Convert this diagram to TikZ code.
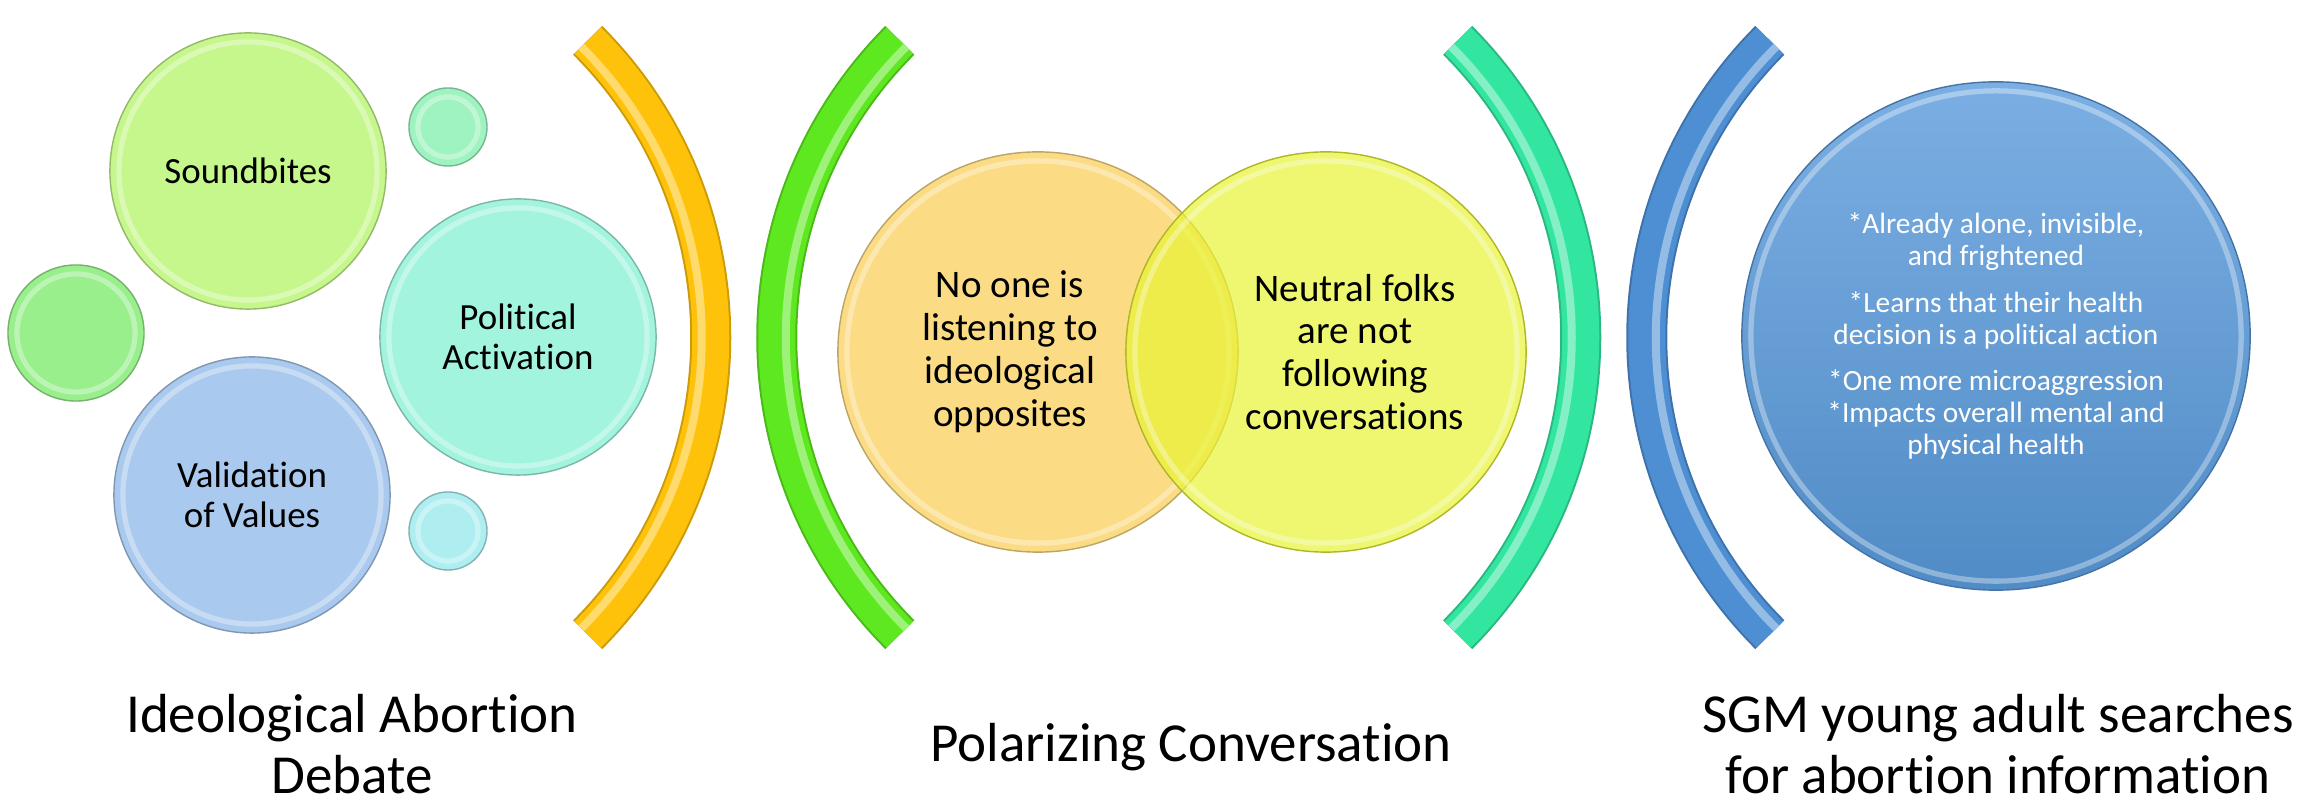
\documentclass[tikz,border=0pt]{standalone}
\usepackage{fontspec}
\setmainfont{Carlito}[Ligatures={NoCommon}]

\definecolor{soundgreen}{HTML}{C6F78C}
\definecolor{mintsmall}{HTML}{9EF3C0}
\definecolor{leafgreen}{HTML}{98EF8C}
\definecolor{aquamint}{HTML}{A3F4DE}
\definecolor{paleblue}{HTML}{A9CAEE}
\definecolor{palecyan}{HTML}{AEEEF0}
\definecolor{vennorange}{HTML}{FBDC85}
\definecolor{vennyellow}{HTML}{E8F432}
\definecolor{deepblue}{HTML}{5A9BDC}
\definecolor{arcyellow}{HTML}{FFC20A}
\definecolor{arcgreen}{HTML}{5EE81F}
\definecolor{arcteal}{HTML}{33E6A0}
\definecolor{arcblue}{HTML}{4E8FD4}

\begin{document}
\begin{tikzpicture}[x=0.01cm,y=-0.01cm,
      bubble/.style={circle,fill=#1,draw=#1!75!black,line width=0.4pt,
        inner sep=0pt,align=center,
        path picture={\draw[white,opacity=0.35,line width=1.5pt]
          (path picture bounding box.center)
          circle[radius=0.5*\pgfkeysvalueof{/pgf/minimum width}-0.09cm];}},
      bubtext/.style={font=\fontsize{10.5pt}{11.4pt}\selectfont},
      venntext/.style={font=\fontsize{11.1pt}{12.2pt}\selectfont,
        align=center,inner sep=0pt},
      bluetext/.style={font=\fontsize{8.35pt}{9.1pt}\selectfont,
        text=white},
      caption/.style={font=\fontsize{15.65pt}{17.4pt}\selectfont,
        align=center,inner sep=0pt},
      bandedge/.style={draw=#1!80!black,line width=0.41cm},
      band/.style={draw=#1,line width=0.37cm},
      bandhi/.style={draw=#1!60!white,line width=0.08cm}]

    \fill[white] (0,0) rectangle (2305,810);
    \useasboundingbox (0,0) rectangle (2305,810);

    % first group: bubbles
    \node[bubble=soundgreen,minimum size=2.76cm,bubtext] (sound) at (248,171) {Soundbites};
    \node[bubble=aquamint,minimum size=2.76cm,bubtext] (activ) at (518,337) {Political\\Activation};
    \node[bubble=paleblue,minimum size=2.76cm,bubtext] (valid) at (252,495) {Validation\\of Values};
    \node[bubble=mintsmall,minimum size=0.78cm] (dot1) at (448,127) {};
    \node[bubble=leafgreen,minimum size=1.36cm] (dot2) at (76,333) {};
    \node[bubble=palecyan,minimum size=0.78cm] (dot3) at (448,531) {};

    % brackets
    \coordinate (yelc) at (290.5,337.5);
    \coordinate (grnc) at (1197,337.5);
    \coordinate (tealc) at (1160.5,337.5);
    \coordinate (bluc) at (2067,337.5);

    \draw[bandedge=arcyellow] (yelc) ++(45:4.2cm) arc[start angle=45,end angle=-45,radius=4.2cm];
    \draw[band=arcyellow] (yelc) ++(45:4.2cm) arc[start angle=45,end angle=-45,radius=4.2cm];
    \draw[bandhi=arcyellow] (yelc) ++(45:4.11cm) arc[start angle=45,end angle=-45,radius=4.11cm];

    \draw[bandedge=arcgreen] (grnc) ++(135:4.2cm) arc[start angle=135,end angle=225,radius=4.2cm];
    \draw[band=arcgreen] (grnc) ++(135:4.2cm) arc[start angle=135,end angle=225,radius=4.2cm];
    \draw[bandhi=arcgreen] (grnc) ++(135:4.11cm) arc[start angle=135,end angle=225,radius=4.11cm];

    \draw[bandedge=arcteal] (tealc) ++(45:4.2cm) arc[start angle=45,end angle=-45,radius=4.2cm];
    \draw[band=arcteal] (tealc) ++(45:4.2cm) arc[start angle=45,end angle=-45,radius=4.2cm];
    \draw[bandhi=arcteal] (tealc) ++(45:4.11cm) arc[start angle=45,end angle=-45,radius=4.11cm];

    \draw[bandedge=arcblue] (bluc) ++(135:4.2cm) arc[start angle=135,end angle=225,radius=4.2cm];
    \draw[band=arcblue] (bluc) ++(135:4.2cm) arc[start angle=135,end angle=225,radius=4.2cm];
    \draw[bandhi=arcblue] (bluc) ++(135:4.11cm) arc[start angle=135,end angle=225,radius=4.11cm];

    % venn
    \node[bubble=vennorange,minimum size=4cm] (listen) at (1038,352) {};
    \node[bubble=vennyellow,minimum size=4cm,fill opacity=0.7] (neutral) at (1326,352) {};
    \node[venntext] (listentext) at (1010,352) {No one is\\listening to\\ideological\\opposites};
    \node[venntext] (neutraltext) at (1355,352) {Neutral folks\\are not\\following\\conversations};

    % last circle
    \node[bubble=deepblue,minimum size=5.08cm,top color=deepblue!80!white,
      bottom color=deepblue!90!black,bluetext] (search) at (1996,336)
      {*Already alone, invisible,\\and frightened\\[4pt]
       *Learns that their health\\decision is a political action\\[4pt]
       *One more microaggression\\*Impacts overall mental and\\physical health};

    % captions
    \node[caption] (debate) at (352,744) {Ideological Abortion\\Debate};
    \node[caption,anchor=base] (polar) at (1191,762) {Polarizing Conversation};
    \node[caption] (seeker) at (1998,744) {SGM young adult searches\\for abortion information};
  \end{tikzpicture}
\end{document}
